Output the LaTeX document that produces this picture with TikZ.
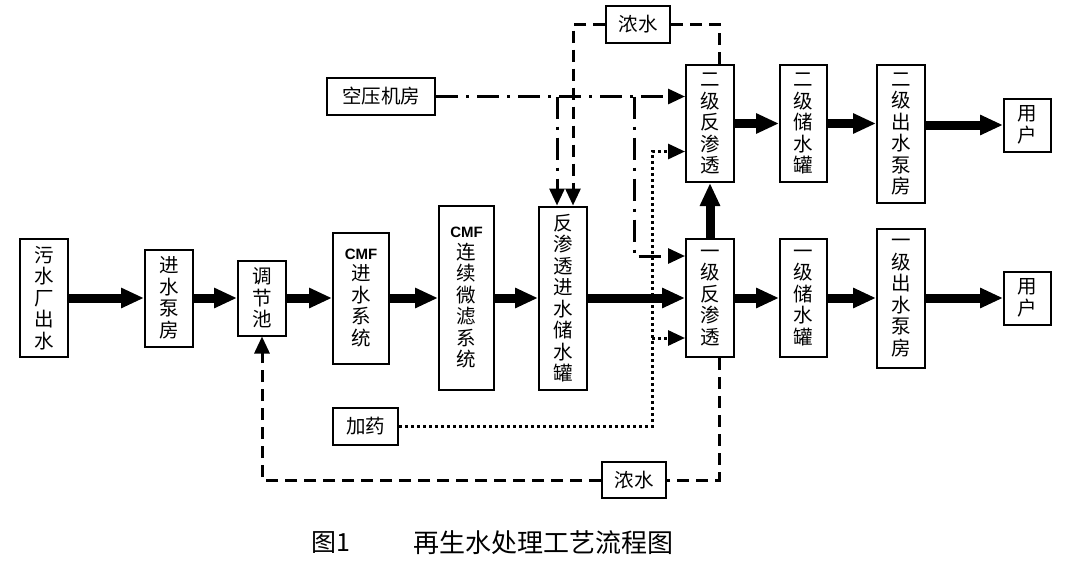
\documentclass[tikz,border=0pt]{standalone}
\usepackage{fontspec}
\newfontfamily\cjk{Noto Sans CJK SC}
\newfontfamily\arialfont{Liberation Sans}
\usetikzlibrary{arrows.meta,positioning}
\tikzset{
  box/.style={draw,line width=2pt,inner sep=0pt,align=center,
    font=\cjk\fontsize{19.5}{21.5}\selectfont},
  flow/.style={-{Triangle[length=23pt,width=19pt]},line width=9pt},
  thin/.style={-{Triangle[length=17pt,width=15pt]}},
  brine/.style={line width=3pt,dash pattern=on 12pt off 7pt},
  air/.style={line width=3pt,dash pattern=on 22pt off 8pt on 3pt off 8pt},
  dose/.style={line width=3pt,dash pattern=on 3pt off 3pt}}
\newcommand{\cmf}{{\arialfont\bfseries\fontsize{15}{17}\selectfont CMF}}

\begin{document}
\begin{tikzpicture}[x=1pt,y=-1pt]
\useasboundingbox (0,0) rectangle (1065,573);
\node[box,minimum width=48,minimum height=118](wsc)at(44,298){污\\水\\厂\\出\\水};
\node[box,minimum width=48,minimum height=97](jsbf)at(169,298){进\\水\\泵\\房};
\node[box,minimum width=48,minimum height=75](tjc)at(262,298){调\\节\\池};
\node[box,minimum width=56,minimum height=131](cmfjs)at(361,298){\cmf\\进\\水\\系\\统};
\node[box,minimum width=55,minimum height=184](cmflx)at(466.5,298){\cmf\\连\\续\\微\\滤\\系\\统};
\node[box,minimum width=48,minimum height=183](fstank)at(563,298){反\\渗\\透\\进\\水\\储\\水\\罐};
\node[box,minimum width=48,minimum height=118](ro1)at(710,298){一\\级\\反\\渗\\透};
\node[box,minimum width=47,minimum height=118](tank1)at(803.5,298){一\\级\\储\\水\\罐};
\node[box,minimum width=48,minimum height=139](pump1)at(901,298){一\\级\\出\\水\\泵\\房};
\node[box,minimum width=47,minimum height=53](user1)at(1027.5,298){用\\户};
\node[box,minimum width=48,minimum height=117](ro2)at(710,123.5){二\\级\\反\\渗\\透};
\node[box,minimum width=47,minimum height=117](tank2)at(803.5,123.5){二\\级\\储\\水\\罐};
\node[box,minimum width=48,minimum height=138](pump2)at(901,134){二\\级\\出\\水\\泵\\房};
\node[box,minimum width=47,minimum height=53](user2)at(1027.5,125){用\\户};
\node[box,minimum width=108,minimum height=37](kyj)at(381,96.5){空压机房};
\node[box,minimum width=64,minimum height=37](ns2)at(638,24.5){浓水};
\node[box,minimum width=65,minimum height=37](jy)at(365.5,426.5){加药};
\node[box,minimum width=64,minimum height=36](ns1)at(634,480){浓水};
\node[font=\cjk\fontsize{25}{28}\selectfont](fig)at(331,543){图1};
\node[font=\cjk\fontsize{26}{28}\selectfont](title)at(543,543){再生水处理工艺流程图};
\coordinate (a1) at ([xshift=-6pt]fstank.north |- kyj.east);
\coordinate (a2) at (634,96.5);
\coordinate (dj) at (652,338);
\draw[air,thin](kyj.east)--(kyj.east -| ro2.west);
\draw[air,thin](a1)--([xshift=-6pt]fstank.north);
\draw[air,thin](a2)|-([yshift=42pt]ro1.west);
\draw[brine]([xshift=9pt]ro2.north)|-(ns2.east);
\draw[brine,thin](ns2.west)-|([xshift=10pt]fstank.north);
\draw[dose,thin](jy.east)-|(dj)|-([yshift=-28pt]ro2.west);
\draw[dose,thin](dj)--(dj -| ro1.west);
\draw[brine]([xshift=9pt]ro1.south)|-(ns1.east);
\draw[brine,thin](ns1.west)-|(tjc.south);
\draw[flow](wsc)--(jsbf);
\draw[flow](jsbf)--(tjc);
\draw[flow](tjc)--(cmfjs);
\draw[flow](cmfjs)--(cmflx);
\draw[flow](cmflx)--(fstank);
\draw[flow](fstank)--(ro1);
\draw[flow](ro1)--(tank1);
\draw[flow](tank1)--(pump1);
\draw[flow](pump1)--(user1);
\draw[flow](ro1)--(ro2);
\draw[flow](ro2)--(tank2);
\draw[flow](tank2.east)--(tank2.east -| pump2.west);
\draw[flow](pump2.east |- user2.west)--(user2.west);
\end{tikzpicture}
\end{document}
